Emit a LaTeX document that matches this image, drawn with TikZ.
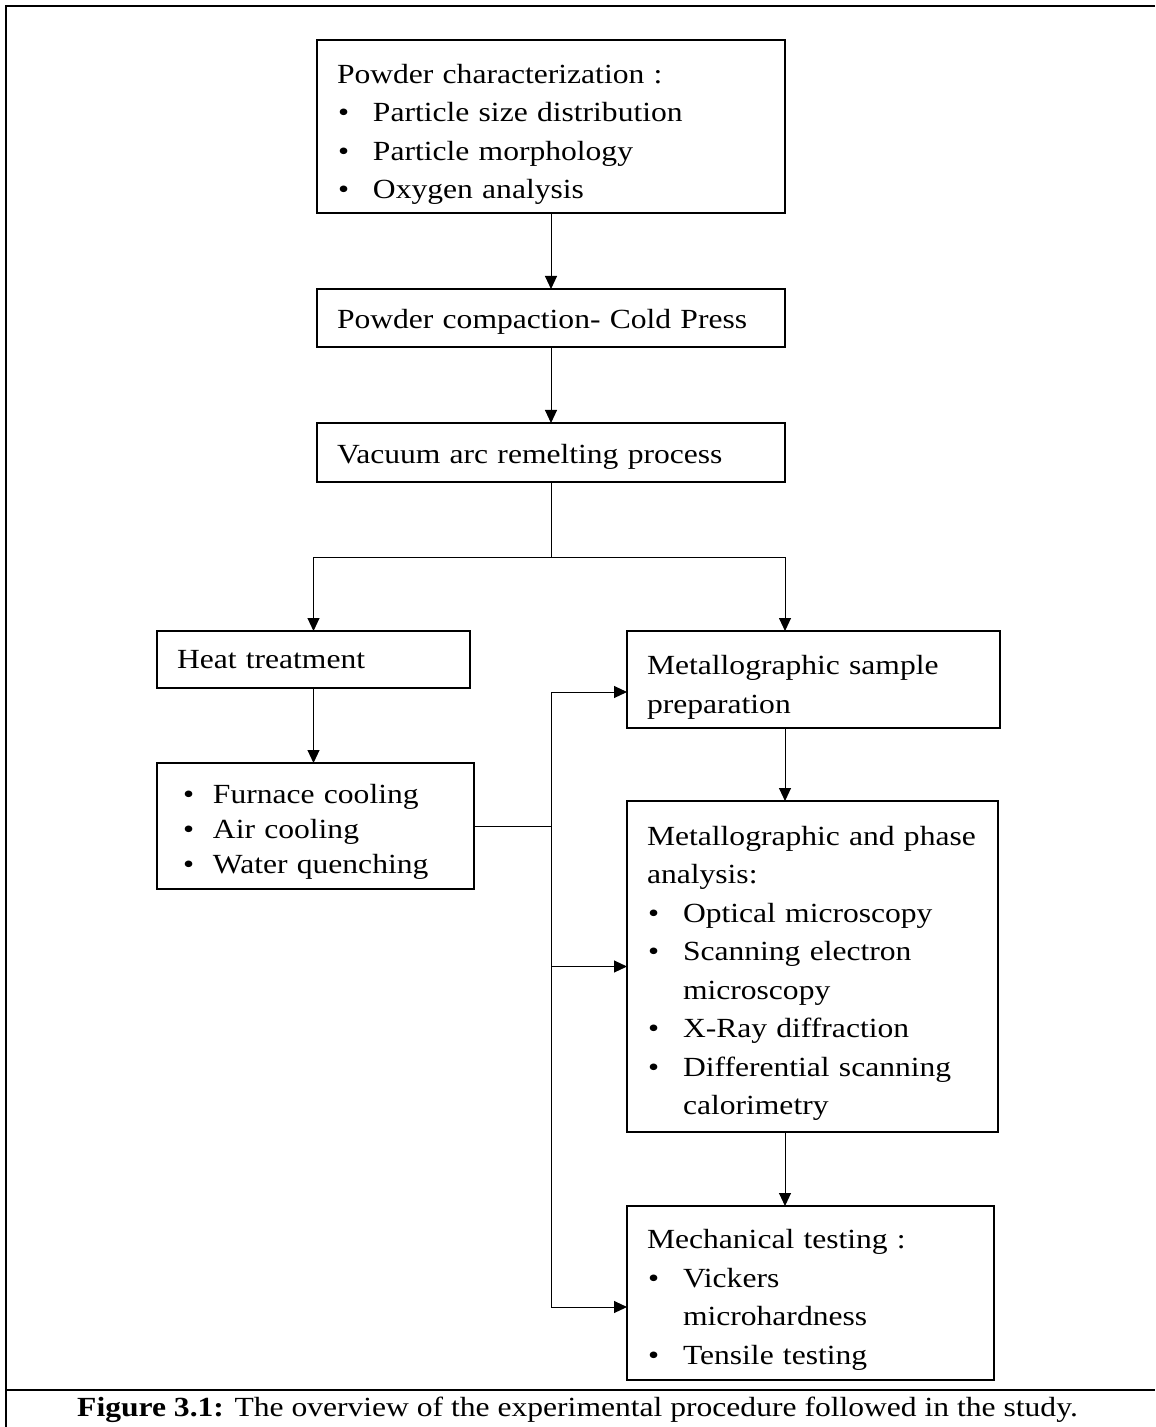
\documentclass[tikz,border=0pt]{standalone}
\usepackage{fontspec}
\setmainfont[FakeStretch=1.14]{Liberation Serif}
\usetikzlibrary{arrows.meta, positioning}

\newcommand{\bul}[1][0.5pt]{\makebox[18pt][l]{\kern#1\textbullet}}
\newcommand{\ind}{\hspace*{18pt}}

\begin{document}
\begin{tikzpicture}[
  x=0.5pt, y=-0.5pt,
  every node/.style={font=\fontsize{13.85pt}{19.25pt}\selectfont},
  block/.style={rectangle, draw, line width=1pt, outer sep=0pt,
                inner xsep=10pt, inner ysep=0pt, align=left},
  arrow/.style={-{Triangle[length=6.5pt,width=6pt]}, line width=0.5pt},
  link/.style={line width=0.5pt}
]
\useasboundingbox (0,0) rectangle (1155,1427);
% frame and caption row
\draw[line width=1pt] (6,1427) -- (6,6) -- (1155,6);
\draw[line width=1pt] (6,1390) -- (1155,1390);
\node[anchor=base] (caption) at (577.5,1416)
  {\textbf{Figure 3.1:} The overview of the experimental procedure followed in the study.};

% main column
\node[block, minimum width=234pt, minimum height=86.5pt, text width=214pt, text height=17.5pt] (char) at (551,126.5)
  {Powder characterization :\\ \bul Particle size distribution\\ \bul Particle morphology\\ \bul Oxygen analysis};
\node[block, below=38pt of char, minimum width=234pt, minimum height=29pt, text width=214pt, text height=13.5pt] (compact)
  {Powder compaction- Cold Press};
\node[block, below=38pt of compact, minimum width=234pt, minimum height=29.5pt, text width=214pt, text height=13.5pt] (var)
  {Vacuum arc remelting process};

% left branch
\node[block, minimum width=156.5pt, minimum height=28.5pt, text width=136.5pt] (heat) at (313.5,659.5)
  {Heat treatment};
\node[block, below=37.5pt of heat, xshift=1pt, minimum width=158.5pt, minimum height=63pt, text width=138.5pt,
      text height=15.7pt, font=\fontsize{13.85pt}{17.5pt}\selectfont] (cool)
  {\bul[3pt]Furnace cooling\\ \bul[3pt]Air cooling\\ \bul[3pt]Water quenching};

% right branch
\node[block, minimum width=186.5pt, minimum height=48.5pt, text width=166.5pt, text height=17.5pt] (prep) at (813.5,679.5)
  {Metallographic sample\\ preparation};
\node[block, below=36.5pt of prep, xshift=-0.5pt, minimum width=185.5pt, minimum height=165.5pt, text width=165.5pt,
      text height=16.7pt] (anal)
  {Metallographic and phase\\ analysis:\\ \bul Optical microscopy\\ \bul Scanning electron\\ \ind microscopy\\
   \bul X-Ray diffraction\\ \bul Differential scanning\\ \ind calorimetry};
\node[block, below=37pt of anal, xshift=-1pt, minimum width=183.5pt, minimum height=87pt, text width=163.5pt,
      text height=16.5pt] (mech)
  {Mechanical testing :\\ \bul Vickers\\ \ind microhardness\\ \bul Tensile testing};

% connectors
\coordinate[below=37.5pt of var.south] (split);
\coordinate[right=117pt of split] (rcol);
\draw[arrow] (char) -- (compact);
\draw[arrow] (compact) -- (var);
\draw[link]  (var) -- (split);
\draw[arrow] (split) -| (heat);
\draw[arrow] (split) -| (rcol |- prep.north);
\draw[arrow] (heat.south) -- (heat.south |- cool.north);
\draw[arrow] (rcol |- prep.south) -- (rcol |- anal.north);
\draw[arrow] (rcol |- anal.south) -- (rcol |- mech.north);
% results of cooling feed all analyses
\coordinate (bus) at (cool.east -| split);
\draw[link]  (cool.east) -- (bus);
\draw[arrow] (bus) |- ([yshift=-6.25pt]prep.west);
\draw[arrow] (bus) |- (anal.west);
\draw[arrow] (bus) |- ([yshift=-7pt]mech.west);
\end{tikzpicture}
\end{document}
